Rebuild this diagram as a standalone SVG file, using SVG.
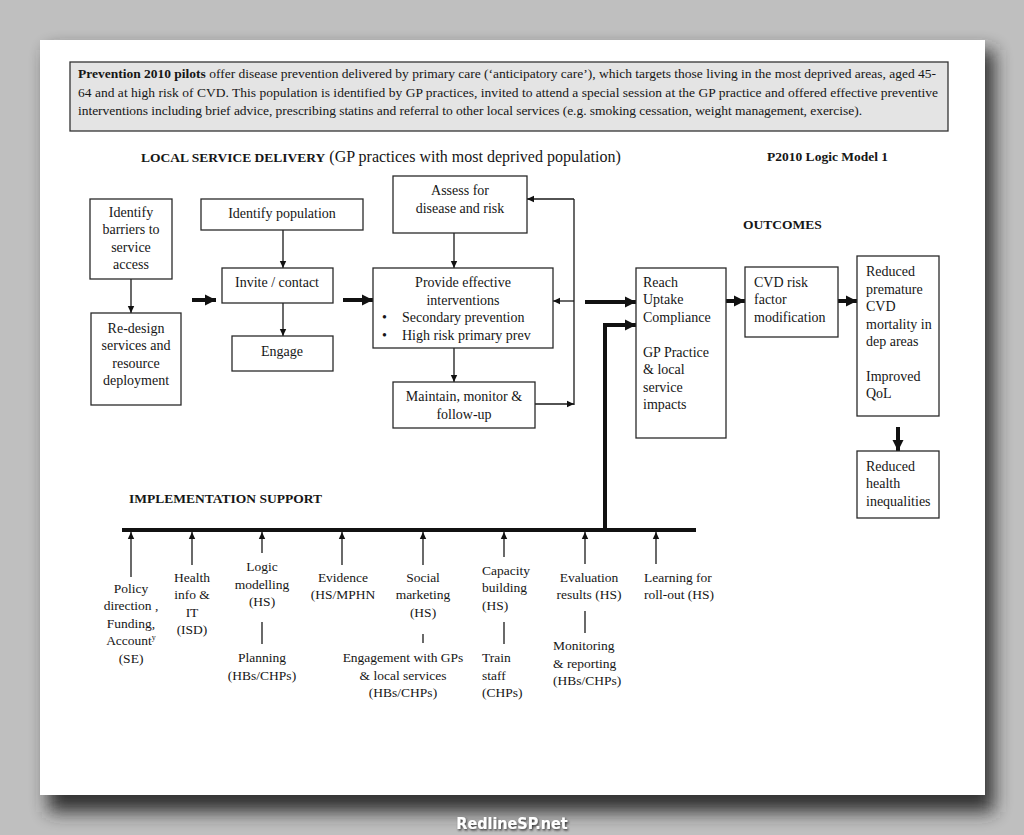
<svg xmlns="http://www.w3.org/2000/svg" width="1024" height="835" viewBox="0 0 1024 835">
<defs>
<filter id="sh" x="-10%" y="-10%" width="120%" height="120%"><feGaussianBlur stdDeviation="9"/></filter>
<filter id="ws" x="-10%" y="-30%" width="120%" height="160%"><feDropShadow dx="1" dy="1.5" stdDeviation="0.8" flood-color="#222" flood-opacity="0.9"/></filter>
<marker id="a" markerUnits="userSpaceOnUse" markerWidth="8" markerHeight="8" refX="7" refY="4" orient="auto"><path d="M0,0.8 L7,4 L0,7.2 z" fill="#111"/></marker>
<marker id="A" markerUnits="userSpaceOnUse" markerWidth="12" markerHeight="12" refX="11" refY="6" orient="auto"><path d="M0,0.5 L11,6 L0,11.5 z" fill="#111"/></marker>
<style>
text{font-family:"Liberation Serif","Times New Roman",serif;fill:#161616;}
.b{font-size:14px;}
.m{text-anchor:middle;}
.s{font-size:13.5px;}
.h{font-size:13.5px;font-weight:bold;}
.box{fill:#fff;stroke:#2a2a2a;stroke-width:1.3;}
.t{fill:none;stroke:#1a1a1a;stroke-width:1.3;}
.ta{fill:none;stroke:#1a1a1a;stroke-width:1.3;marker-end:url(#a);}
.T{fill:none;stroke:#111;stroke-width:4;marker-end:url(#A);}
</style>
</defs>
<rect x="0" y="0" width="1024" height="835" fill="#bfbfbf"/>
<rect x="48" y="50" width="946" height="762" fill="#2a2a2a" opacity="0.95" filter="url(#sh)"/>
<rect x="40" y="40" width="945" height="755" fill="#ffffff"/>

<g id="intro">
<rect x="70" y="62" width="878" height="69" fill="#e4e4e4" stroke="#333" stroke-width="1.3"/>
<text class="s" x="78" y="78" textLength="858"><tspan font-weight="bold">Prevention 2010 pilots</tspan> offer disease prevention delivered by primary care (‘anticipatory care’), which targets those living in the most deprived areas, aged 45-</text>
<text class="s" x="78" y="97" textLength="860">64 and at high risk of CVD.  This population is identified by GP practices, invited to attend a special session at the GP practice and offered effective preventive</text>
<text class="s" x="78" y="115" textLength="784">interventions including brief advice, prescribing statins and referral to other local services (e.g. smoking cessation, weight management, exercise).</text>
</g>

<g id="headings">
<text x="141" y="162"><tspan class="h">LOCAL SERVICE DELIVERY</tspan><tspan font-size="16px"> (GP practices with most deprived population)</tspan></text>
<text class="h" x="767" y="161">P2010 Logic Model 1</text>
<text class="h" x="743" y="229">OUTCOMES</text>
<text class="h" x="129" y="503">IMPLEMENTATION SUPPORT</text>
</g>

<g id="connectors">
<path class="ta" d="M131,279 V313"/>
<path class="ta" d="M283,230 V268"/>
<path class="ta" d="M283,303 V336"/>
<path class="ta" d="M454,233 V268"/>
<path class="ta" d="M454,348 V382"/>
<path class="ta" d="M535,404 H574"/>
<path class="t" d="M574,405 V199"/>
<path class="ta" d="M574,199 H527"/>
<path class="ta" d="M574,301 H553"/>
<path class="T" d="M192,300 H216"/>
<path class="T" d="M343,300 H373"/>
<path class="T" d="M585,302 H636"/>
<path class="T" d="M726,301 H745"/>
<path class="T" d="M838,301 H857"/>
<path class="T" d="M898,427 V451"/>
<path class="T" d="M605,530 V325 H636"/>
<path d="M122,530 H696" stroke="#111" stroke-width="4" fill="none"/>
<path class="ta" d="M131,577 V532"/>
<path class="ta" d="M192,565 V532"/>
<path class="ta" d="M262,553 V532"/>
<path class="ta" d="M342,565 V532"/>
<path class="ta" d="M423,565 V532"/>
<path class="ta" d="M504,557 V532"/>
<path class="ta" d="M585,564 V532"/>
<path class="ta" d="M656,564 V532"/>
<path class="t" d="M262,622 V644"/>
<path class="t" d="M423,634 V643"/>
<path class="t" d="M504,622 V644"/>
<path class="t" d="M585,611 V633"/>
</g>

<g id="n-barriers">
<rect class="box" x="90" y="199" width="82" height="80"/>
<text class="b m" x="131" y="217">Identify</text>
<text class="b m" x="131" y="234">barriers to</text>
<text class="b m" x="131" y="252">service</text>
<text class="b m" x="131" y="269">access</text>
</g>
<g id="n-redesign">
<rect class="box" x="91" y="313" width="90" height="92"/>
<text class="b m" x="136" y="333">Re-design</text>
<text class="b m" x="136" y="350">services and</text>
<text class="b m" x="136" y="368">resource</text>
<text class="b m" x="136" y="385">deployment</text>
</g>
<g id="n-identify">
<rect class="box" x="201" y="199" width="162" height="31"/>
<text class="b m" x="282" y="218">Identify population</text>
</g>
<g id="n-invite">
<rect class="box" x="222" y="268" width="111" height="35"/>
<text class="b m" x="277" y="287">Invite / contact</text>
</g>
<g id="n-engage">
<rect class="box" x="232" y="336" width="101" height="35"/>
<text class="b m" x="282" y="356">Engage</text>
</g>
<g id="n-assess">
<rect class="box" x="393" y="176" width="134" height="57"/>
<text class="b m" x="460" y="195">Assess for</text>
<text class="b m" x="460" y="213">disease and risk</text>
</g>
<g id="n-provide">
<rect class="box" x="373" y="268" width="180" height="80"/>
<text class="b m" x="463" y="287">Provide effective</text>
<text class="b m" x="463" y="305">interventions</text>
<text class="b" x="382" y="322">•</text>
<text class="b" x="402" y="322">Secondary prevention</text>
<text class="b" x="382" y="340">•</text>
<text class="b" x="402" y="340">High risk primary  prev</text>
</g>
<g id="n-maintain">
<rect class="box" x="393" y="382" width="142" height="46"/>
<text class="b m" x="464" y="401">Maintain, monitor &amp;</text>
<text class="b m" x="464" y="419">follow-up</text>
</g>
<g id="n-reach">
<rect class="box" x="636" y="268" width="90" height="170"/>
<text class="b" x="643" y="287">Reach</text>
<text class="b" x="643" y="304">Uptake</text>
<text class="b" x="643" y="322">Compliance</text>
<text class="b" x="643" y="357">GP Practice</text>
<text class="b" x="643" y="374">&amp; local</text>
<text class="b" x="643" y="392">service</text>
<text class="b" x="643" y="409">impacts</text>
</g>
<g id="n-cvd">
<rect class="box" x="745" y="267" width="93" height="70"/>
<text class="b" x="754" y="287">CVD risk</text>
<text class="b" x="754" y="304">factor</text>
<text class="b" x="754" y="322">modification</text>
</g>
<g id="n-mortality">
<rect class="box" x="857" y="256" width="82" height="160"/>
<text class="b" x="866" y="276">Reduced</text>
<text class="b" x="866" y="294">premature</text>
<text class="b" x="866" y="311">CVD</text>
<text class="b" x="866" y="329">mortality in</text>
<text class="b" x="866" y="346">dep areas</text>
<text class="b" x="866" y="381">Improved</text>
<text class="b" x="866" y="398">QoL</text>
</g>
<g id="n-inequalities">
<rect class="box" x="857" y="451" width="82" height="67"/>
<text class="b" x="866" y="471">Reduced</text>
<text class="b" x="866" y="488">health</text>
<text class="b" x="866" y="506">inequalities</text>
</g>

<g id="s-policy">
<text class="s m" x="131" y="593">Policy</text>
<text class="s m" x="131" y="610">direction ,</text>
<text class="s m" x="131" y="628">Funding,</text>
<text class="s m" x="131" y="645">Account<tspan font-size="8px" dy="-5">y</tspan></text>
<text class="s m" x="131" y="663">(SE)</text>
</g>
<g id="s-health">
<text class="s m" x="192" y="582">Health</text>
<text class="s m" x="192" y="599">info  &amp;</text>
<text class="s m" x="192" y="617">IT</text>
<text class="s m" x="192" y="634">(ISD)</text>
</g>
<g id="s-logic">
<text class="s m" x="262" y="571">Logic</text>
<text class="s m" x="262" y="589">modelling</text>
<text class="s m" x="262" y="606">(HS)</text>
<text class="s m" x="262" y="662">Planning</text>
<text class="s m" x="262" y="680">(HBs/CHPs)</text>
</g>
<g id="s-evidence">
<text class="s m" x="343" y="582">Evidence</text>
<text class="s m" x="343" y="599">(HS/MPHN</text>
</g>
<g id="s-social">
<text class="s m" x="423" y="582">Social</text>
<text class="s m" x="423" y="599">marketing</text>
<text class="s m" x="423" y="617">(HS)</text>
<text class="s m" x="403" y="662">Engagement with GPs</text>
<text class="s m" x="403" y="680">&amp; local services</text>
<text class="s m" x="403" y="697">(HBs/CHPs)</text>
</g>
<g id="s-capacity">
<text class="s" x="482" y="575">Capacity</text>
<text class="s" x="482" y="592">building</text>
<text class="s" x="482" y="610">(HS)</text>
<text class="s" x="482" y="662">Train</text>
<text class="s" x="482" y="680">staff</text>
<text class="s" x="482" y="697">(CHPs)</text>
</g>
<g id="s-evaluation">
<text class="s m" x="589" y="582">Evaluation</text>
<text class="s m" x="589" y="599">results (HS)</text>
<text class="s" x="553" y="650">Monitoring</text>
<text class="s" x="553" y="668">&amp; reporting</text>
<text class="s" x="553" y="685">(HBs/CHPs)</text>
</g>
<g id="s-learning">
<text class="s" x="644" y="582">Learning for</text>
<text class="s" x="644" y="599">roll-out  (HS)</text>
</g>

<text x="512" y="829" text-anchor="middle" filter="url(#ws)" style="font-family:'DejaVu Sans Condensed','DejaVu Sans',sans-serif;font-stretch:condensed;font-weight:bold;font-size:16px;fill:#ffffff">RedlineSP.net</text>
</svg>
